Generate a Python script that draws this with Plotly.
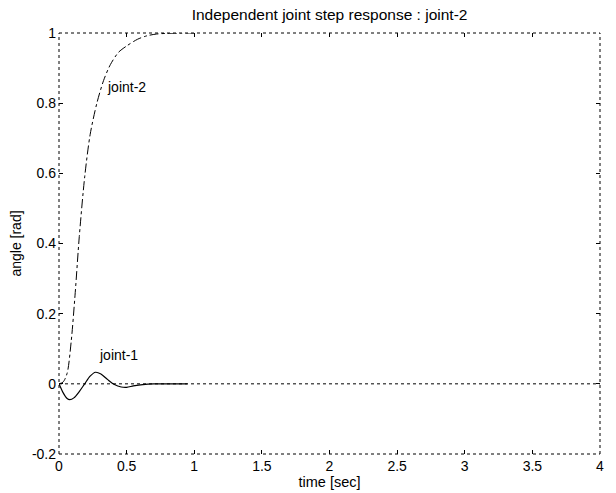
import plotly.graph_objects as go

# joint-2 step response
t2 = [0, 0.03, 0.06, 0.09, 0.12, 0.15, 0.19, 0.23, 0.28, 0.33, 0.38, 0.44, 0.50, 0.58, 0.65, 0.72, 0.80, 0.90, 1.0]
y2 = [0, 0.005, 0.03, 0.12, 0.26, 0.42, 0.59, 0.71, 0.80, 0.865, 0.91, 0.945, 0.963, 0.982, 0.992, 0.997, 0.999, 1.0, 1.0]

# joint-1 coupling response
t1 = [0, 0.03, 0.06, 0.08, 0.11, 0.15, 0.19, 0.23, 0.27, 0.31, 0.36, 0.41, 0.46, 0.50, 0.55, 0.62, 0.70, 0.80, 0.95]
y1 = [0, -0.025, -0.042, -0.045, -0.04, -0.022, 0.0, 0.022, 0.033, 0.028, 0.012, -0.002, -0.009, -0.010, -0.006, -0.002, 0.0, 0.0, 0.0]

x_ticks = [0, 0.5, 1, 1.5, 2, 2.5, 3, 3.5, 4]
x_tick_text = ["0", "0.5", "1", "1.5", "2", "2.5", "3", "3.5", "4"]
y_ticks = [-0.2, 0, 0.2, 0.4, 0.6, 0.8, 1]
y_tick_text = ["-0.2", "0", "0.2", "0.4", "0.6", "0.8", "1"]

labels = ["joint-2", "joint-1"]
label_x = [0.50, 0.44]
label_y = [0.845, 0.083]

FONT = "Liberation Sans, Arial, sans-serif"

fig = go.Figure()
fig.add_trace(go.Scatter(x=t2, y=y2, mode="lines", line=dict(color="black", width=1, dash="dashdot", shape="spline", smoothing=0.8), showlegend=False))
fig.add_trace(go.Scatter(x=t1, y=y1, mode="lines", line=dict(color="black", width=1.2, shape="spline", smoothing=0.8), showlegend=False))

for txt, lx, ly in zip(labels, label_x, label_y):
    fig.add_annotation(x=lx, y=ly, text=txt, showarrow=False, font=dict(family=FONT, size=14, color="black"))

# dotted frame and zero line
dot = dict(color="black", width=1, dash="dot")
fig.add_shape(type="line", xref="paper", yref="paper", x0=0, x1=0, y0=0, y1=1, line=dot)
fig.add_shape(type="line", xref="paper", yref="paper", x0=1, x1=1, y0=0, y1=1, line=dot)
fig.add_shape(type="line", xref="paper", yref="paper", x0=0, x1=1, y0=0, y1=0, line=dot)
fig.add_shape(type="line", xref="paper", yref="paper", x0=0, x1=1, y0=1, y1=1, line=dot)
fig.add_shape(type="line", xref="paper", yref="y", x0=0, x1=1, y0=0, y1=0, line=dot)

fig.update_layout(
    width=616, height=493,
    margin=dict(l=59, r=16, t=33, b=39),
    paper_bgcolor="white", plot_bgcolor="white",
    font=dict(family=FONT, size=12, color="black"),
    title=dict(text="Independent joint step response : joint-2", x=0.535, xanchor="center",
               y=1 - 15/493, yref="container", yanchor="middle", font=dict(size=15.5)),
)
fig.update_xaxes(range=[0, 4], tickvals=x_ticks, ticktext=x_tick_text, ticks="inside", ticklen=4,
                 tickcolor="black", mirror="ticks", showgrid=False, zeroline=False, showline=False,
                 ticklabelstandoff=2, automargin=False,
                 title=dict(text="time [sec]", standoff=2, font=dict(size=14.5)), tickfont=dict(size=14))
fig.update_yaxes(range=[-0.2, 1], tickvals=y_ticks, ticktext=y_tick_text, ticks="inside", ticklen=4,
                 tickcolor="black", mirror="ticks", showgrid=False, zeroline=False, showline=False,
                 ticklabelstandoff=2, automargin=False,
                 title=dict(text="angle [rad]", standoff=6, font=dict(size=14)), tickfont=dict(size=14))

fig.write_html("out.html")
